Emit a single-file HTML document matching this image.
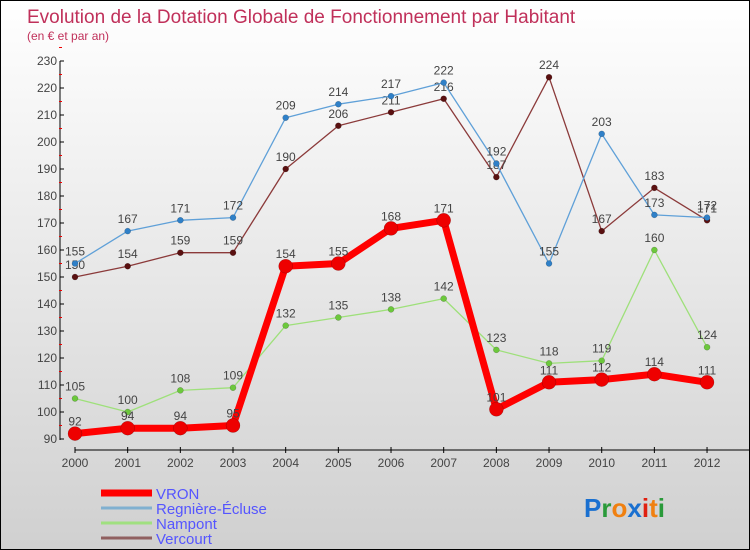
<!DOCTYPE html>
<html><head><meta charset="utf-8"><style>
body{margin:0}
#c{width:748px;height:548px;border:1px solid #000;background:linear-gradient(#fff,#d0d0d0);position:relative;overflow:hidden;font-family:"Liberation Sans",sans-serif}
</style></head><body>
<div id="c">
<svg id="s" width="748" height="548"></svg>
</div>
<script>
const years=[2000,2001,2002,2003,2004,2005,2006,2007,2008,2009,2010,2011,2012];
const vron=[92,94,94,95,154,155,168,171,101,111,112,114,111];
const regniere=[155,167,171,172,209,214,217,222,192,155,203,173,172];
const nampont=[105,100,108,109,132,135,138,142,123,118,119,160,124];
const vercourt=[150,154,159,159,190,206,211,216,187,224,167,183,171];
const yTicks=[90,100,110,120,130,140,150,160,170,180,190,200,210,220,230];
const NS="http://www.w3.org/2000/svg";
const s=document.getElementById('s');
const X=i=>74+i*52.67, Y=v=>438-(v-90)*2.7;
function el(t,a,p){const e=document.createElementNS(NS,t);for(const k in a)e.setAttribute(k,a[k]);(p||s).appendChild(e);return e;}
let t=el('text',{x:26,y:22,fill:'#c0305a','font-size':19});t.textContent='Evolution de la Dotation Globale de Fonctionnement par Habitant';

t=el('text',{x:26,y:39,fill:'#c0305a','font-size':12});t.textContent='(en € et par an)';

let a=el('line',{x1:59,y1:60,x2:59,y2:439,stroke:'#000'});
a=el('line',{x1:74,y1:449,x2:748,y2:449,stroke:'#000'});
yTicks.forEach(v=>{el('line',{x1:59,y1:Y(v),x2:63,y2:Y(v),stroke:'#000'});el('line',{x1:58,y1:Y(v+5),x2:61,y2:Y(v+5),stroke:'#e00'});
 const l=el('text',{x:56,y:Y(v)+4,'text-anchor':'end','font-size':12,fill:'#444'});l.textContent=v;});
years.forEach((y,i)=>{el('line',{x1:X(i),y1:446,x2:X(i),y2:452,stroke:'#000'});
 const l=el('text',{x:X(i),y:466,'text-anchor':'middle','font-size':12,fill:'#444'});l.textContent=y;});
function series(d,col,dot,w,r,name){
 const g=el('g',{});
 el('polyline',{points:d.map((v,i)=>X(i)+','+Y(v)).join(' '),fill:'none',stroke:col,'stroke-width':w,'stroke-linejoin':'round'},g);
 d.forEach((v,i)=>{const c=el('circle',{cx:X(i),cy:Y(v),r:r,fill:dot,stroke:'rgba(0,0,0,.3)','stroke-width':0.5},g);
  const l=el('text',{x:X(i),y:Y(v)-8,'text-anchor':'middle','font-size':12,fill:'#444'},g);l.textContent=v;});
}
series(vercourt,'#8b3a3a','#5a1010',1.3,3,'vercourt');
series(nampont,'#9ee07a','#6cc83c',1.3,3,'nampont');
series(regniere,'#5fa0d8','#2f80c8',1.3,3,'regniere-ecluse');
series(vron,'#f00','#e00',7,7,'vron');
const leg=[['VRON','#f00',7],['Regnière-Écluse','#80b0d0',3],['Nampont','#a0e080',3],['Vercourt','#906060',3]];
leg.forEach((l,i)=>{const g=el('g',{});
 el('line',{x1:100,y1:492+i*15,x2:151,y2:492+i*15,stroke:l[1],'stroke-width':l[2]},g);
 const tx=el('text',{x:155,y:498+i*15,'font-size':15,fill:'#55f'},g);tx.textContent=l[0];});
const logo=el('text',{x:583,y:516,'font-size':26,'font-weight':'bold'});
[['P','#1a70d0'],['r','#2a9a3a'],['o','#f08010'],['x','#1a70d0'],['i','#e02010'],['t','#f08010'],['i','#2a9a3a']].forEach(p=>{const ts=el('tspan',{fill:p[1]},logo);ts.textContent=p[0];});
</script>
</body></html>
